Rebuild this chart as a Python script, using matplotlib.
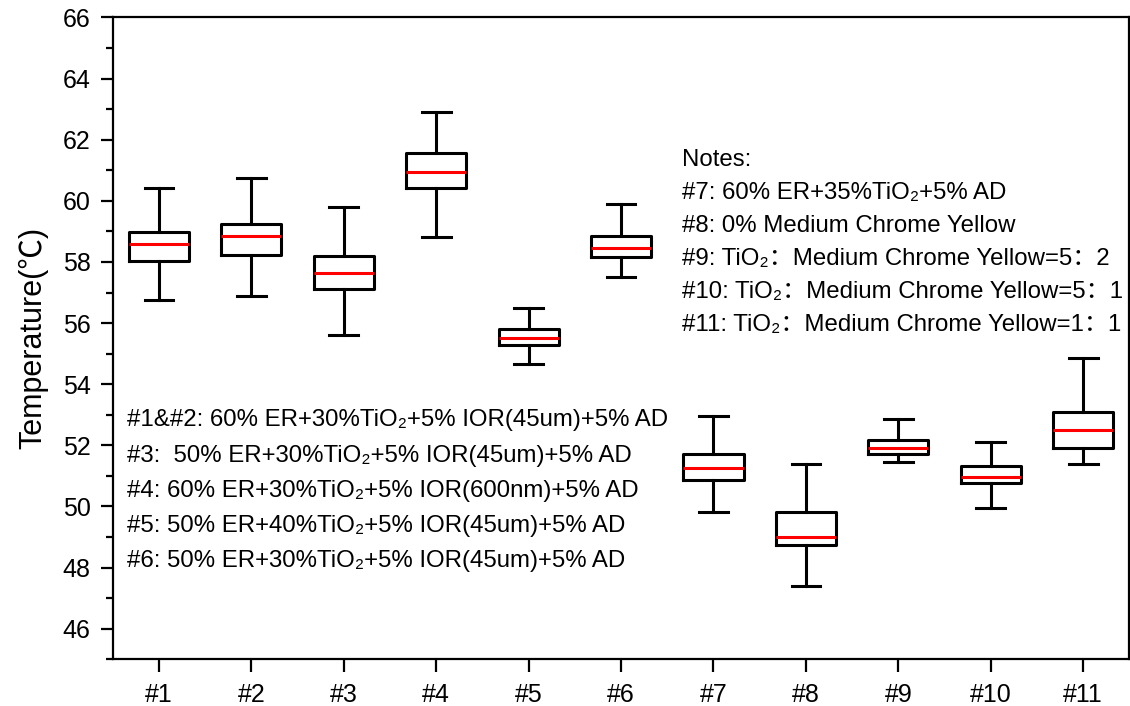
import numpy as np
import matplotlib
matplotlib.use("Agg")
import matplotlib.pyplot as plt
from matplotlib.ticker import MultipleLocator

plt.rcParams['font.family'] = ['Liberation Sans', 'DejaVu Sans', 'Noto Sans CJK SC']

# Dados das caixas
labels = ["#1", "#2", "#3", "#4", "#5", "#6", "#7", "#8", "#9", "#10", "#11"]
whislo = [56.77, 56.88, 55.60, 58.82, 54.67, 57.52, 49.82, 47.39, 51.45, 49.95, 51.39]
q1 = [58.03, 58.22, 57.12, 60.42, 55.29, 58.17, 50.88, 48.74, 51.73, 50.76, 51.91]
med = [58.60, 58.84, 57.65, 60.95, 55.52, 58.44, 51.26, 49.01, 51.92, 50.95, 52.50]
q3 = [58.99, 59.23, 58.21, 61.58, 55.81, 58.86, 51.72, 49.81, 52.19, 51.32, 53.10]
whishi = [60.42, 60.76, 59.81, 62.89, 56.50, 59.90, 52.95, 51.38, 52.86, 52.10, 54.87]

notes_left = [
    "#1&#2: 60% ER+30%TiO₂+5% IOR(45um)+5% AD",
    "#3:  50% ER+30%TiO₂+5% IOR(45um)+5% AD",
    "#4: 60% ER+30%TiO₂+5% IOR(600nm)+5% AD",
    "#5: 50% ER+40%TiO₂+5% IOR(45um)+5% AD",
    "#6: 50% ER+30%TiO₂+5% IOR(45um)+5% AD",
]
notes_right = [
    "Notes:",
    "#7: 60% ER+35%TiO₂+5% AD",
    "#8: 0% Medium Chrome Yellow",
    "#9: TiO₂：Medium Chrome Yellow=5：2",
    "#10: TiO₂：Medium Chrome Yellow=5：1",
    "#11: TiO₂：Medium Chrome Yellow=1：1",
]

stats = []
for i in range(len(labels)):
    stats.append({"whislo": whislo[i], "q1": q1[i], "med": med[i],
                  "q3": q3[i], "whishi": whishi[i], "fliers": []})

fig = plt.figure(figsize=(11.3, 7.06), dpi=100)
ax = fig.add_axes([0.0997, 0.0662, 0.8998, 0.9091])

pos = np.arange(1, len(labels) + 1)
lw = 2.2
ax.bxp(stats, positions=pos, widths=0.65, capwidths=0.31, showfliers=False,
       boxprops=dict(color="black", linewidth=lw),
       whiskerprops=dict(color="black", linewidth=lw),
       capprops=dict(color="black", linewidth=lw),
       medianprops=dict(color="red", linewidth=lw))

ax.set_xlim(0.5, 11.5)
ax.set_ylim(45, 66)
ax.set_xticks(pos)
ax.set_xticklabels(labels)
ax.yaxis.set_major_locator(MultipleLocator(2))
ax.yaxis.set_minor_locator(MultipleLocator(1))
ax.set_yticks(np.arange(46, 67, 2))
ax.tick_params(axis="both", which="major", direction="out", length=9, width=1.6,
               labelsize=18)
ax.tick_params(axis="y", which="minor", direction="out", length=5, width=1.6)
ax.tick_params(axis="x", which="both", bottom=True, top=False, pad=8)
ax.tick_params(axis="y", which="both", right=False, pad=7)
for s in ax.spines.values():
    s.set_linewidth(1.6)

ax.set_ylabel("Temperature(℃)", fontsize=22, labelpad=10,
              family=['Liberation Sans', 'Noto Sans CJK SC'])

# Notas
for k, t in enumerate(notes_left):
    ax.text(0.65, 52.62 - k * 1.15, t, fontsize=17.3, va="baseline", ha="left")
for k, t in enumerate(notes_right):
    ax.text(6.66, 61.14 - k * 1.08, t, fontsize=17.3, va="baseline", ha="left")

fig.savefig("out.png", dpi=100)
